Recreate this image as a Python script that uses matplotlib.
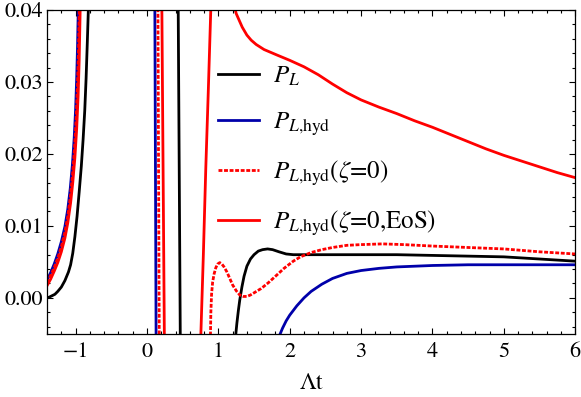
import numpy as np
import matplotlib
matplotlib.use("Agg")
import matplotlib.pyplot as plt
from matplotlib.ticker import MultipleLocator, FormatStrFormatter

plt.rcParams['font.family'] = ['STIXGeneral', 'DejaVu Serif']
plt.rcParams['mathtext.fontset'] = 'stix'

nan = np.nan

# P_L (black) : branches separated by nan
t_black = [-1.4, -1.37, -1.33, -1.29, -1.25, -1.2, -1.15, -1.1, -1.07, -1.04, -1.01, -0.98, -0.95, -0.92,
           -0.895, -0.872, -0.853, -0.836, -0.82, nan,
           0.437, 0.467, nan,
           1.24, 1.26, 1.28, 1.30, 1.33, 1.36, 1.40, 1.45, 1.50, 1.56, 1.62, 1.69, 1.76, 1.85, 1.95, 2.05,
           2.2, 2.5, 3.0, 3.5, 4.0, 4.5, 5.0, 5.5, 6.0]
p_black = [0.0000, 0.0001, 0.0003, 0.0005, 0.0009, 0.0015, 0.0024, 0.0036, 0.0046, 0.0062, 0.0085, 0.0113,
           0.0147, 0.0183, 0.0220, 0.0260, 0.0305, 0.0355, 0.0405, nan,
           0.0410, -0.0060, nan,
           -0.0055, -0.0035, -0.0018, -0.0003, 0.0015, 0.0030, 0.0044, 0.0054, 0.0060, 0.0065, 0.0067,
           0.0068, 0.0067, 0.0064, 0.0061, 0.0060, 0.0060, 0.0060, 0.0060, 0.0060, 0.0059, 0.0058, 0.0057,
           0.0054, 0.0051]

# P_L,hyd (blue)
t_blue = [-1.4, -1.35, -1.3, -1.25, -1.2, -1.15, -1.11, -1.075, -1.045, -1.02, -1.0, -0.985, -0.973, -0.962, nan,
          0.11, 0.128, nan,
          1.845, 1.9, 1.95, 2.0, 2.1, 2.2, 2.3, 2.45, 2.6, 2.8, 3.0, 3.25, 3.5, 4.0, 4.5, 5.0, 6.0]
p_blue = [0.0025, 0.0035, 0.0047, 0.0061, 0.0078, 0.0099, 0.0123, 0.0152, 0.0185, 0.0222, 0.0262, 0.0305,
          0.0350, 0.0405, nan,
          0.0410, -0.0060, nan,
          -0.0055, -0.0042, -0.0032, -0.0024, -0.0011, 0.0000, 0.0009, 0.0019, 0.0027, 0.0034, 0.0038,
          0.0041, 0.0043, 0.0045, 0.0046, 0.0046, 0.0046]

# P_L,hyd(zeta=0) (red dotted)
t_dot = [-1.4, -1.35, -1.3, -1.25, -1.2, -1.15, -1.11, -1.072, -1.042, -1.015, -0.993, -0.975, -0.96, -0.948, nan,
         0.153, 0.172, nan,
         0.888, 0.895, 0.905, 0.92, 0.94, 0.965, 0.99, 1.02, 1.05, 1.08, 1.12, 1.16, 1.20, 1.25, 1.30, 1.35,
         1.40, 1.45, 1.5, 1.6, 1.7, 1.8, 1.92, 2.05, 2.15, 2.3, 2.45, 2.6, 2.8, 3.0, 3.3, 3.6, 4.0, 4.5,
         5.0, 5.5, 6.0]
p_dot = [0.0021, 0.0031, 0.0042, 0.0055, 0.0071, 0.0091, 0.0113, 0.0142, 0.0172, 0.0208, 0.0248, 0.0292,
         0.0340, 0.0405, nan,
         0.0410, -0.0060, nan,
         -0.0060, -0.0020, 0.0005, 0.0022, 0.0033, 0.0042, 0.0047, 0.0049, 0.0047, 0.0043, 0.0036, 0.0027,
         0.0018, 0.0010, 0.0004, 0.0002, 0.0002, 0.0004, 0.0007, 0.0013, 0.0021, 0.0030, 0.0041, 0.0051,
         0.0057, 0.0063, 0.0067, 0.0070, 0.0073, 0.0074, 0.0075, 0.0074, 0.0072, 0.0070, 0.0068, 0.0064,
         0.0061]

# P_L,hyd(zeta=0,EoS) (red solid)
t_red = [-1.4, -1.35, -1.3, -1.25, -1.2, -1.15, -1.11, -1.07, -1.04, -1.01, -0.985, -0.965, -0.95, -0.935, nan,
         0.208, 0.244, nan,
         0.752, 0.79, 0.824, 0.86, 0.897, nan,
         1.225, 1.25, 1.29, 1.335, 1.4, 1.46, 1.53, 1.64, 1.83, 2.0, 2.2, 2.4, 2.6, 2.8, 3.0, 3.25, 3.5, 3.75,
         4.0, 4.25, 4.5, 4.75, 5.0, 5.25, 5.5, 5.75, 6.0]
p_red = [0.0017, 0.0026, 0.0037, 0.0049, 0.0064, 0.0083, 0.0104, 0.0132, 0.0160, 0.0195, 0.0235, 0.0280,
         0.0330, 0.0405, nan,
         0.0410, -0.0060, nan,
         -0.0060, 0.0060, 0.0180, 0.0290, 0.0410, nan,
         0.0405, 0.0395, 0.0386, 0.0376, 0.0365, 0.0358, 0.0352, 0.0345, 0.0337, 0.0330, 0.0321, 0.0310,
         0.0297, 0.0285, 0.0275, 0.0265, 0.0256, 0.0246, 0.0237, 0.0227, 0.0217, 0.0207, 0.0198, 0.0190,
         0.0182, 0.0174, 0.0167]

labels = [r'$P_L$', r'$P_{L{,}\mathrm{hyd}}$', r'$P_{L{,}\mathrm{hyd}}(\zeta$=0)',
          r'$P_{L{,}\mathrm{hyd}}(\zeta$=0,EoS)']

fig = plt.figure(figsize=(5.81, 3.97), dpi=100)
ax = fig.add_axes([0.081, 0.159, 0.909, 0.816])

lw = 2.0
ax.plot(t_black, p_black, color='black', lw=lw, label=labels[0])
ax.plot(t_blue, p_blue, color='#0000aa', lw=lw, label=labels[1])
ax.plot(t_dot, p_dot, color='red', lw=lw, ls=(0, (1.4, 0.6)), label=labels[2])
ax.plot(t_red, p_red, color='red', lw=lw, label=labels[3])

ax.set_xlim(-1.4, 6)
ax.set_ylim(-0.005, 0.04)
ax.xaxis.set_major_locator(MultipleLocator(1))
ax.xaxis.set_minor_locator(MultipleLocator(0.2))
ax.yaxis.set_major_locator(MultipleLocator(0.01))
ax.yaxis.set_minor_locator(MultipleLocator(0.002))
ax.yaxis.set_major_formatter(FormatStrFormatter('%.2f'))
ax.tick_params(which='both', direction='in', top=True, right=True, labelsize=16, width=0.8)
ax.tick_params(which='major', length=4.5)
ax.tick_params(which='minor', length=2.5)
ax.tick_params(axis='x', pad=6)
ax.tick_params(axis='y', pad=3)
for s in ax.spines.values():
    s.set_linewidth(0.9)

ax.set_xlabel(r'$\Lambda$t', fontsize=17, labelpad=8)

ax.legend(loc='upper left', bbox_to_anchor=(0.323, 0.83), frameon=False, fontsize=18,
          handlelength=1.65, handletextpad=0.55, labelspacing=0.85, borderpad=0, borderaxespad=0)

plt.savefig('out.png', dpi=100)
